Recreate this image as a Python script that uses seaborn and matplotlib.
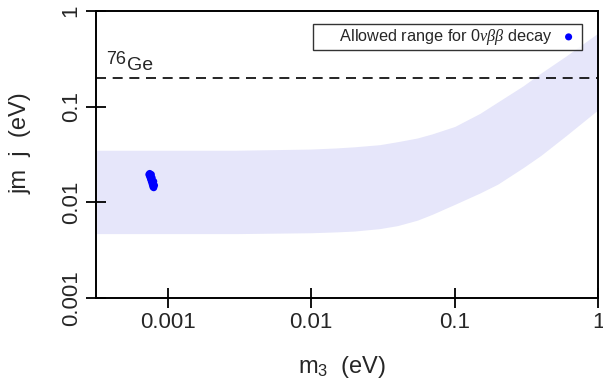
import numpy as np
import pandas as pd
import matplotlib
matplotlib.use("Agg")
import matplotlib.pyplot as plt
import seaborn as sns

# lightest neutrino mass m3 (eV) and band edges of |m_ee| (eV)
m3_band = [3.2e-4, 1e-3, 3e-3, 1e-2, 1.5e-2, 2e-2, 3e-2, 4e-2, 5.5e-2, 7e-2, 0.1, 0.15, 0.2, 0.3, 0.4, 0.6, 1.0]
mee_upper = [0.035, 0.035, 0.035, 0.036, 0.037, 0.038, 0.040, 0.043, 0.047, 0.052, 0.062, 0.085, 0.112, 0.165, 0.225, 0.34, 0.59]
mee_lower = [0.0047, 0.0047, 0.0047, 0.0048, 0.0049, 0.005, 0.0053, 0.0057, 0.0065, 0.0075, 0.0095, 0.0125, 0.0155, 0.023, 0.031, 0.05, 0.093]

# allowed points from the fit
m3_fit = [0.00074, 0.00075, 0.00076, 0.00077, 0.00078, 0.00079, 0.00077, 0.00079,
          0.00075, 0.00080, 0.00076, 0.00078, 0.00080, 0.00077, 0.00079, 0.00081]
mee_fit = [0.0195, 0.0185, 0.0175, 0.0165, 0.0155, 0.0145, 0.0195, 0.0150,
           0.0200, 0.0142, 0.0190, 0.0180, 0.0165, 0.0170, 0.0160, 0.0150]

ge76_limit = 0.2

fit = pd.DataFrame({"m3": m3_fit, "mee": mee_fit})

sns.set_theme(style="ticks")
plt.rcParams["font.family"] = ["Liberation Sans", "DejaVu Sans"]
plt.rcParams["mathtext.fontset"] = "custom"
plt.rcParams["mathtext.rm"] = "Liberation Sans"
plt.rcParams["mathtext.it"] = "Liberation Serif:italic"

fig = plt.figure(figsize=(6.03, 3.79), dpi=100)
ax = fig.add_axes([0.159, 0.214, 0.833, 0.757])
ax.set_axisbelow(False)

ax.fill_between(m3_band, mee_lower, mee_upper, color="#E6E6FA", lw=0)
ax.axhline(ge76_limit, color="black", ls=(0, (6, 4)), lw=1.2)

sns.scatterplot(data=fit, x="m3", y="mee", ax=ax, color="blue", s=26,
                edgecolor="none", label=r"Allowed range for 0$\nu\beta\beta$ decay")

ax.text(3.75e-4, 0.279, "76", fontsize=13)
ax.text(5.25e-4, 0.242, "Ge", fontsize=14)

ax.set_xscale("log")
ax.set_yscale("log")
ax.set_xlim(10 ** -3.5, 1)
ax.set_ylim(0.001, 1)
ax.set_xticks([0.001, 0.01, 0.1, 1])
ax.set_xticklabels(["0.001", "0.01", "0.1", "1"])
ax.set_yticks([0.001, 0.01, 0.1, 1])
ax.set_yticklabels(["0.001", "0.01", "0.1", "1"], rotation=90, va="center")
ax.minorticks_off()
ax.tick_params(axis="both", which="major", direction="inout", length=14.4,
               width=1.3, labelsize=16, color="black", pad=3)

for s in ax.spines.values():
    s.set_color("black")
    s.set_linewidth(1.4)

ax.set_xlabel("m$_3$  (eV)", fontsize=17)
ax.set_ylabel("jm  j  (eV)", fontsize=17)
ax.xaxis.set_label_coords(0.49, -0.197)
ax.yaxis.set_label_coords(-0.128, 0.54)

leg = ax.legend(loc="upper right", markerfirst=False, fontsize=11.7, frameon=True,
                fancybox=False, borderpad=0.2, handletextpad=0.4, handlelength=1.2,
                borderaxespad=0, bbox_to_anchor=(0.967, 0.955), markerscale=1.0)
leg.get_frame().set_edgecolor("black")
leg.get_frame().set_linewidth(1.0)
# the reference box keeps a wide empty margin left of the text
leg.texts[0].set_text("     " + leg.texts[0].get_text())

fig.savefig("out.png", dpi=100)
